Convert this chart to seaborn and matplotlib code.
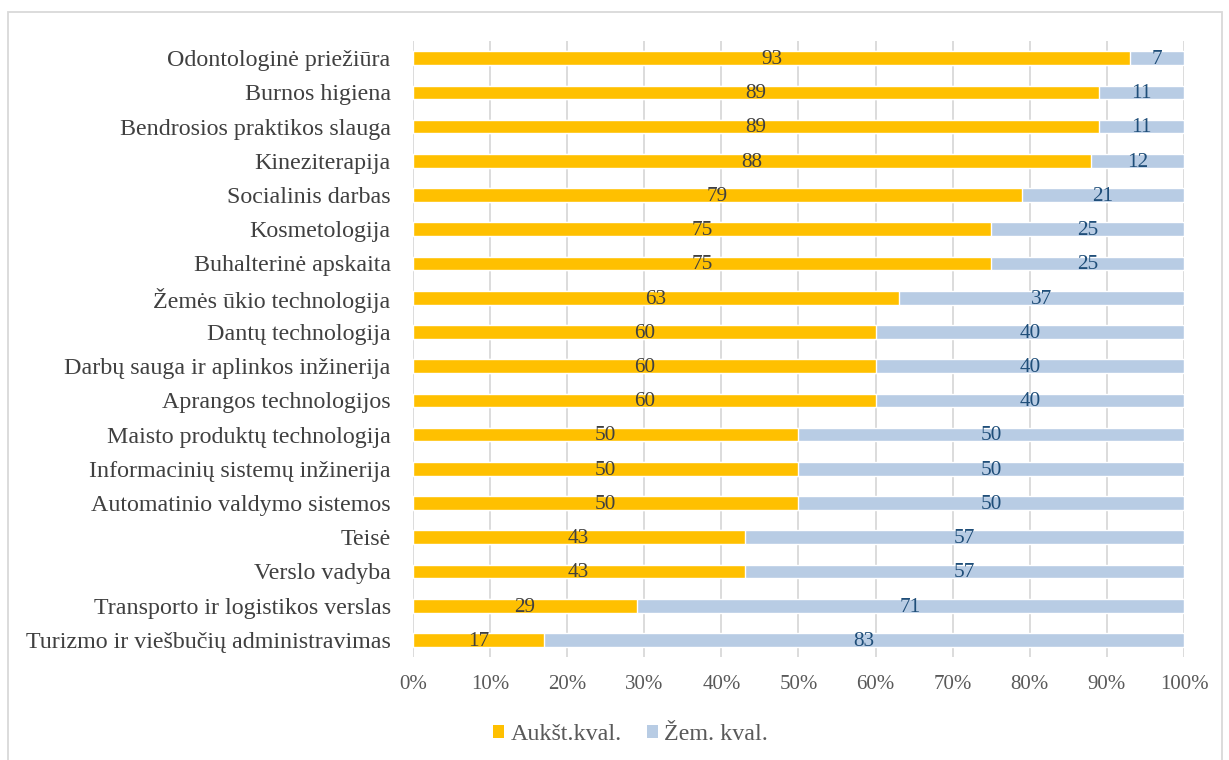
import matplotlib
matplotlib.use("Agg")
import matplotlib.pyplot as plt
import seaborn as sns
import pandas as pd
from matplotlib.patches import Rectangle, Patch

categories = [
    "Odontologinė priežiūra",
    "Burnos higiena",
    "Bendrosios praktikos slauga",
    "Kineziterapija",
    "Socialinis darbas",
    "Kosmetologija",
    "Buhalterinė apskaita",
    "Žemės ūkio technologija",
    "Dantų technologija",
    "Darbų sauga ir aplinkos inžinerija",
    "Aprangos technologijos",
    "Maisto produktų technologija",
    "Informacinių sistemų inžinerija",
    "Automatinio valdymo sistemos",
    "Teisė",
    "Verslo vadyba",
    "Transporto ir logistikos verslas",
    "Turizmo ir viešbučių administravimas",
]
aukst = [93, 89, 89, 88, 79, 75, 75, 63, 60, 60, 60, 50, 50, 50, 43, 43, 29, 17]
zem = [7, 11, 11, 12, 21, 25, 25, 37, 40, 40, 40, 50, 50, 50, 57, 57, 71, 83]
series_names = ["Aukšt.kval.", "Žem. kval."]
xticks = [0, 10, 20, 30, 40, 50, 60, 70, 80, 90, 100]

ORANGE = "#FFC000"
BLUE = "#B8CCE4"

sns.set_theme(style="white")
plt.rcParams["font.family"] = ["Liberation Serif", "DejaVu Serif"]

df = pd.DataFrame({"cat": categories, "a": aukst, "z": zem})
df["total"] = df["a"] + df["z"]

fig = plt.figure(figsize=(12.29, 7.6), dpi=100)
ax = fig.add_axes([0.336, 0.1355, 0.6274, 0.8105])

sns.barplot(data=df, x="total", y="cat", color=BLUE, orient="h", width=0.4,
            ax=ax, saturation=1, zorder=2)
sns.barplot(data=df, x="a", y="cat", color=ORANGE, orient="h", width=0.4,
            ax=ax, saturation=1, zorder=3)

bars_a = ax.containers[1]
for i, ba in enumerate(bars_a):
    yc = ba.get_y() + ba.get_height() / 2 + 0.04
    ax.text(aukst[i] / 2, yc, str(aukst[i]), ha="center", va="center",
            fontsize=15.3, color="#404040", zorder=5)
    ax.text(aukst[i] + zem[i] / 2, yc, str(zem[i]), ha="center", va="center",
            fontsize=15.3, color="#1F4E79", zorder=5)

ax.set_xlim(0, 100)
ax.set_ylim(len(categories) - 0.5, -0.5)
ax.set_xticks(xticks)
ax.set_xticklabels([f"{t}%" for t in xticks], fontsize=15, color="#595959")
ax.tick_params(axis="y", labelsize=17.3, labelcolor="#404040", length=0, pad=16)
ax.tick_params(axis="x", length=0, pad=13)
ax.set_xlabel("")
ax.set_ylabel("")
ax.grid(axis="x", color="#D9D9D9", linewidth=1.3, zorder=0)
ax.set_axisbelow(True)
for s in ax.spines.values():
    s.set_visible(False)

handles = [Patch(facecolor=ORANGE, edgecolor="none"),
           Patch(facecolor=BLUE, edgecolor="none")]
fig.legend(handles, series_names, loc="center", bbox_to_anchor=(0.513, 0.034),
           ncol=2, frameon=False, fontsize=17.3, handlelength=0.45, handleheight=0.45,
           handletextpad=0.28, columnspacing=1.05, labelcolor="#595959")

fig.patches.append(Rectangle((0.0065, -0.01), 0.988, 0.994, transform=fig.transFigure,
                             fill=False, edgecolor="#D9D9D9", linewidth=1.3))

fig.savefig("out.png", dpi=100)
